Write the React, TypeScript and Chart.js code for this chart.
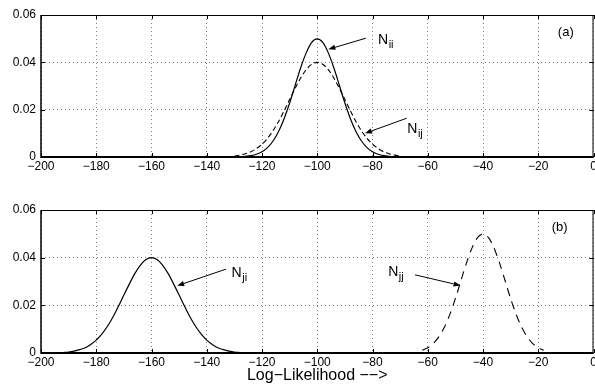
import React, { useEffect, useRef } from "react";
import { Chart, registerables } from "chart.js";

Chart.register(...registerables);

// ---------- data ----------
const xTicksMin = -200;
const xTicksMax = 0;
const yMax = 0.06;

const topX = [-130, -128, -126, -124, -122, -120, -118, -116, -114, -112, -110, -108, -106, -104, -102, -100, -98, -96, -94, -92, -90, -88, -86, -84, -82, -80, -78, -76, -74, -72, -70];
const topNii = [0.00004, 0.00011, 0.00025, 0.00055, 0.00114, 0.00219, 0.00397, 0.00675, 0.0108, 0.0162, 0.0228, 0.0303, 0.0377, 0.044, 0.0484, 0.0499, 0.0484, 0.044, 0.0377, 0.0303, 0.0228, 0.0162, 0.0108, 0.00675, 0.00397, 0.00219, 0.00114, 0.00055, 0.00025, 0.00011, 0.00004];
const topNij = [0.0004, 0.0008, 0.0014, 0.0022, 0.0036, 0.0054, 0.0079, 0.0111, 0.015, 0.0195, 0.0243, 0.029, 0.0334, 0.0369, 0.0392, 0.04, 0.0392, 0.0369, 0.0334, 0.029, 0.0243, 0.0195, 0.015, 0.0111, 0.0079, 0.0054, 0.0036, 0.0022, 0.0014, 0.0008, 0.0004];

const botNjiX = [-192, -190, -188, -186, -184, -182, -180, -178, -176, -174, -172, -170, -168, -166, -164, -162, -160, -158, -156, -154, -152, -150, -148, -146, -144, -142, -140, -138, -136, -134, -132, -130, -128];
const botNji = [0.0002, 0.0004, 0.0008, 0.0014, 0.0022, 0.0036, 0.0054, 0.0079, 0.0111, 0.015, 0.0195, 0.0243, 0.029, 0.0334, 0.0369, 0.0392, 0.04, 0.0392, 0.0369, 0.0334, 0.029, 0.0243, 0.0195, 0.015, 0.0111, 0.0079, 0.0054, 0.0036, 0.0022, 0.0014, 0.0008, 0.0004, 0.0002];

const botNjjX = [-62, -60, -58, -56, -54, -52, -50, -48, -46, -44, -42, -40, -38, -36, -34, -32, -30, -28, -26, -24, -22, -20, -18];
const botNjj = [0.00114, 0.00219, 0.00397, 0.00675, 0.0108, 0.0162, 0.0228, 0.0303, 0.0377, 0.044, 0.0484, 0.0499, 0.0484, 0.044, 0.0377, 0.0303, 0.0228, 0.0162, 0.0108, 0.00675, 0.00397, 0.00219, 0.00114];

const xAxisTitle = "Log\u2212Likelihood \u2212\u2212>";

// annotation labels (data coordinates)
const topNotes = [
  { text: "N", sub: "ii", tx: -78.0, ty: 0.0478, fx: -82.4, fy: 0.0502, hx: -96.0, hy: 0.0455 },
  { text: "N", sub: "ij", tx: -67.4, ty: 0.0101, fx: -67.6, fy: 0.0164, hx: -82.7, hy: 0.01 },
];
const botNotes = [
  { text: "N", sub: "ji", tx: -131.0, ty: 0.0318, fx: -133.0, fy: 0.0352, hx: -150.7, hy: 0.0282 },
  { text: "N", sub: "jj", tx: -74.3, ty: 0.0325, fx: -64.6, fy: 0.0328, hx: -48.1, hy: 0.0283 },
];
const topTag = { text: "(a)", x: -12.9, y: 0.0528 };
const botTag = { text: "(b)", x: -15.1, y: 0.0525 };

const FONT = "'Liberation Sans', Arial, Helvetica, sans-serif";

type Note = { text: string; sub: string; tx: number; ty: number; fx: number; fy: number; hx: number; hy: number };
type Tag = { text: string; x: number; y: number };

function framePlugin(notes: Note[], tag: Tag) {
  return {
    id: "frame",
    afterDraw(chart: any) {
      const ctx = chart.ctx as CanvasRenderingContext2D;
      const { left, right, top, bottom } = chart.chartArea;
      const xs = chart.scales.x;
      const ys = chart.scales.y;
      ctx.save();
      ctx.strokeStyle = "#000";
      ctx.setLineDash([]);
      // inward ticks
      ctx.lineWidth = 1;
      const tl = 4;
      for (let v = xTicksMin; v <= xTicksMax; v += 20) {
        const px = Math.round(xs.getPixelForValue(v)) + 0.5;
        ctx.beginPath();
        ctx.moveTo(px, bottom);
        ctx.lineTo(px, bottom - tl);
        ctx.moveTo(px, top);
        ctx.lineTo(px, top + tl);
        ctx.stroke();
      }
      for (let v = 0; v <= yMax + 1e-9; v += 0.02) {
        const py = Math.round(ys.getPixelForValue(v)) + 0.5;
        ctx.beginPath();
        ctx.moveTo(left, py);
        ctx.lineTo(left + tl, py);
        ctx.moveTo(right, py);
        ctx.lineTo(right - tl, py);
        ctx.stroke();
      }
      // box
      ctx.lineWidth = 1;
      ctx.beginPath();
      ctx.moveTo(left, top + 0.5);
      ctx.lineTo(right, top + 0.5);
      ctx.moveTo(right - 0.5, top);
      ctx.lineTo(right - 0.5, bottom);
      ctx.stroke();
      ctx.lineWidth = 2;
      ctx.beginPath();
      ctx.moveTo(left, bottom);
      ctx.lineTo(right, bottom);
      ctx.stroke();
      ctx.lineWidth = 1.5;
      ctx.beginPath();
      ctx.moveTo(left, top);
      ctx.lineTo(left, bottom + 1);
      ctx.stroke();

      // annotations
      ctx.fillStyle = "#000";
      ctx.lineWidth = 1;
      for (const n of notes) {
        const fx = xs.getPixelForValue(n.fx);
        const fy = ys.getPixelForValue(n.fy);
        const hx = xs.getPixelForValue(n.hx);
        const hy = ys.getPixelForValue(n.hy);
        const ang = Math.atan2(hy - fy, hx - fx);
        const hl = 7;
        const hw = 2.6;
        const bx = hx - hl * Math.cos(ang);
        const by = hy - hl * Math.sin(ang);
        ctx.beginPath();
        ctx.moveTo(fx, fy);
        ctx.lineTo(bx, by);
        ctx.stroke();
        ctx.beginPath();
        ctx.moveTo(hx, hy);
        ctx.lineTo(bx + hw * Math.sin(ang), by - hw * Math.cos(ang));
        ctx.lineTo(bx - hw * Math.sin(ang), by + hw * Math.cos(ang));
        ctx.closePath();
        ctx.fill();

        const tx = xs.getPixelForValue(n.tx);
        const ty = ys.getPixelForValue(n.ty);
        ctx.textAlign = "left";
        ctx.textBaseline = "alphabetic";
        ctx.font = `14px ${FONT}`;
        ctx.fillText(n.text, tx, ty);
        const w = ctx.measureText(n.text).width;
        ctx.font = `11px ${FONT}`;
        ctx.fillText(n.sub, tx + w + 0.5, ty + 4);
      }
      ctx.font = `13px ${FONT}`;
      ctx.textAlign = "left";
      ctx.textBaseline = "middle";
      ctx.fillText(tag.text, xs.getPixelForValue(tag.x), ys.getPixelForValue(tag.y));
      ctx.restore();
    },
  };
}

function makeConfig(
  datasets: any[],
  notes: Note[],
  tag: Tag,
  xAxisHeight: number,
  showTitle: boolean
): any {
  return {
    type: "line",
    data: { datasets },
    options: {
      animation: false,
      responsive: false,
      maintainAspectRatio: false,
      parsing: false,
      layout: { padding: { left: 0, right: 1.5, top: 15, bottom: 0 } },
      plugins: { legend: { display: false }, tooltip: { enabled: false } },
      elements: { point: { radius: 0 } },
      scales: {
        x: {
          type: "linear",
          min: xTicksMin,
          max: xTicksMax,
          border: { display: false, dash: [1, 3] },
          grid: { color: "#7a7a7a", lineWidth: 1, drawTicks: false },
          ticks: {
            stepSize: 20,
            autoSkip: false,
            maxRotation: 0,
            padding: 2,
            color: "#000",
            font: { family: FONT, size: 12 },
            callback: (v: number) => (v < 0 ? "\u2212" + Math.abs(v) : String(v)),
          },
          title: {
            display: showTitle,
            text: xAxisTitle,
            color: "#000",
            padding: { top: 0, bottom: 0 },
            font: { family: FONT, size: 16 },
          },
          afterFit: (s: any) => {
            s.height = xAxisHeight;
            s.paddingLeft = 0;
            s.paddingRight = 0;
          },
        },
        y: {
          type: "linear",
          min: 0,
          max: yMax,
          border: { display: false, dash: [1, 3] },
          grid: { color: "#7a7a7a", lineWidth: 1, drawTicks: false },
          ticks: {
            stepSize: 0.02,
            padding: 5,
            color: "#000",
            font: { family: FONT, size: 12 },
            callback: (v: number) => (Math.abs(v) < 1e-9 ? "0" : v.toFixed(2)),
          },
          afterFit: (s: any) => {
            s.width = 41;
            s.paddingTop = 0;
            s.paddingBottom = 0;
          },
        },
      },
    },
    plugins: [framePlugin(notes, tag)],
  };
}

function pts(xs: number[], ys: number[]) {
  return xs.map((x, i) => ({ x, y: ys[i] }));
}

export default function App() {
  const topRef = useRef<HTMLCanvasElement | null>(null);
  const botRef = useRef<HTMLCanvasElement | null>(null);

  useEffect(() => {
    const top = new Chart(
      topRef.current as HTMLCanvasElement,
      makeConfig(
        [
          { label: "Nij", data: pts(topX, topNij), borderColor: "#000", borderWidth: 1.1, borderDash: [5, 3], fill: false, tension: 0.3 },
          { label: "Nii", data: pts(topX, topNii), borderColor: "#000", borderWidth: 1.2, fill: false, tension: 0.3 },
        ],
        topNotes,
        topTag,
        23,
        false
      )
    );
    const bot = new Chart(
      botRef.current as HTMLCanvasElement,
      makeConfig(
        [
          { label: "Nji", data: pts(botNjiX, botNji), borderColor: "#000", borderWidth: 1.2, fill: false, tension: 0.3 },
          { label: "Njj", data: pts(botNjjX, botNjj), borderColor: "#000", borderWidth: 1.1, borderDash: [8, 6], fill: false, tension: 0.3 },
        ],
        botNotes,
        botTag,
        32,
        true
      )
    );
    return () => {
      top.destroy();
      bot.destroy();
    };
  }, []);

  return (
    <div style={{ position: "fixed", left: 0, top: 0, width: 595, height: 385, background: "#fff" }}>
      <canvas ref={topRef} width={595} height={180} style={{ position: "absolute", left: 0, top: 0, width: 595, height: 180 }} />
      <canvas ref={botRef} width={595} height={190} style={{ position: "absolute", left: 0, top: 195, width: 595, height: 190 }} />
    </div>
  );
}
